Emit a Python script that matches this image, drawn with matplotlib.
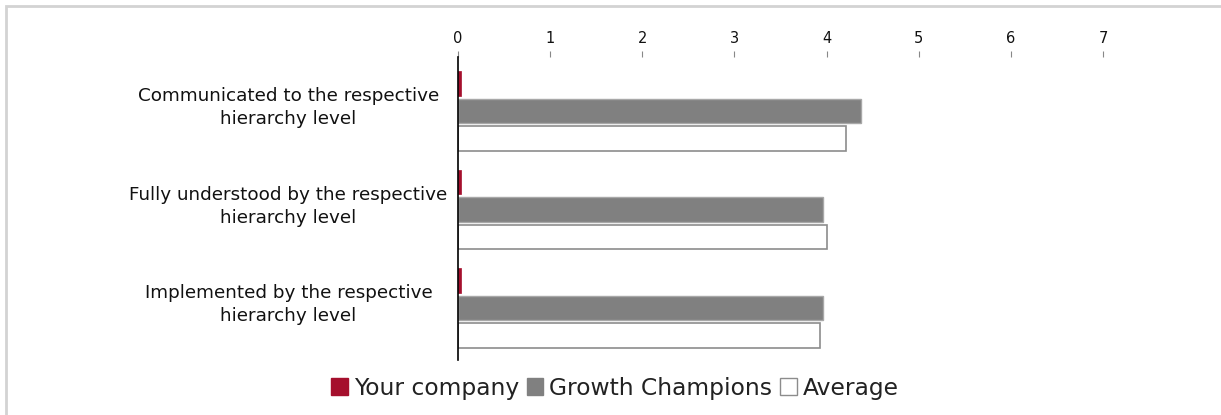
import matplotlib
matplotlib.use("Agg")
import matplotlib.pyplot as plt
import numpy as np
from matplotlib.patches import Rectangle, Patch

categories = [
    "Communicated to the respective\nhierarchy level",
    "Fully understood by the respective\nhierarchy level",
    "Implemented by the respective\nhierarchy level",
]
your_company = [0.03, 0.03, 0.03]
growth_champions = [4.37, 3.96, 3.96]
average = [4.21, 4.00, 3.93]
x_ticks = [0, 1, 2, 3, 4, 5, 6, 7]

RED = "#a50f2d"
GREY = "#808080"

fig = plt.figure(figsize=(12.21, 4.15), dpi=100)

# light frame around the whole chart (cut at right/bottom like the original)
fig.patches.append(Rectangle((6 / 1221, -0.1), 1.2, (415 - 6) / 415 + 0.1,
                             transform=fig.transFigure, fill=False,
                             edgecolor="#d3d3d3", linewidth=2))

ax = fig.add_axes([458 / 1221, 1 - 360 / 415, 645 / 1221, 303 / 415])

y = np.arange(len(categories))
h = 0.25
off = 0.28
ax.barh(y - off, your_company, height=h, color=RED, edgecolor=RED, linewidth=0.5)
ax.barh(y, growth_champions, height=h, color=GREY, edgecolor="#a8a8a8", linewidth=1)
ax.barh(y + off, average, height=h, color="white", edgecolor="#8c8c8c", linewidth=1.2)

ax.set_xlim(0, 7)
ax.set_ylim(len(categories) - 0.47, -0.55)

# labels sit a little above the middle of each group
ax.set_yticks(y - 0.08)
ax.set_yticklabels(categories, fontsize=13.2, ha="center", linespacing=1.35,
                   color="#111111")
ax.tick_params(axis="y", length=0, pad=122)

ax.xaxis.tick_top()
ax.set_xticks(x_ticks)
ax.set_xticklabels([str(t) for t in x_ticks], fontsize=10.5, color="#111111")
ax.tick_params(axis="x", length=4, color="#888888", pad=4, width=0.8)

for side in ["right", "bottom", "top"]:
    ax.spines[side].set_visible(False)
ax.spines["left"].set_color("black")
ax.spines["left"].set_linewidth(1.2)

handles = [
    Patch(facecolor=RED, edgecolor=RED, label="Your company"),
    Patch(facecolor=GREY, edgecolor=GREY, label="Growth Champions"),
    Patch(facecolor="white", edgecolor="#8c8c8c", label="Average"),
]
fig.legend(handles=handles, loc="center", bbox_to_anchor=(615 / 1221, 1 - 388 / 415),
           ncol=3, frameon=False, fontsize=16.8, handlelength=0.7, handleheight=0.7,
           handletextpad=0.25, columnspacing=0.35, labelcolor="#222222")

fig.savefig("out.png", dpi=100)
